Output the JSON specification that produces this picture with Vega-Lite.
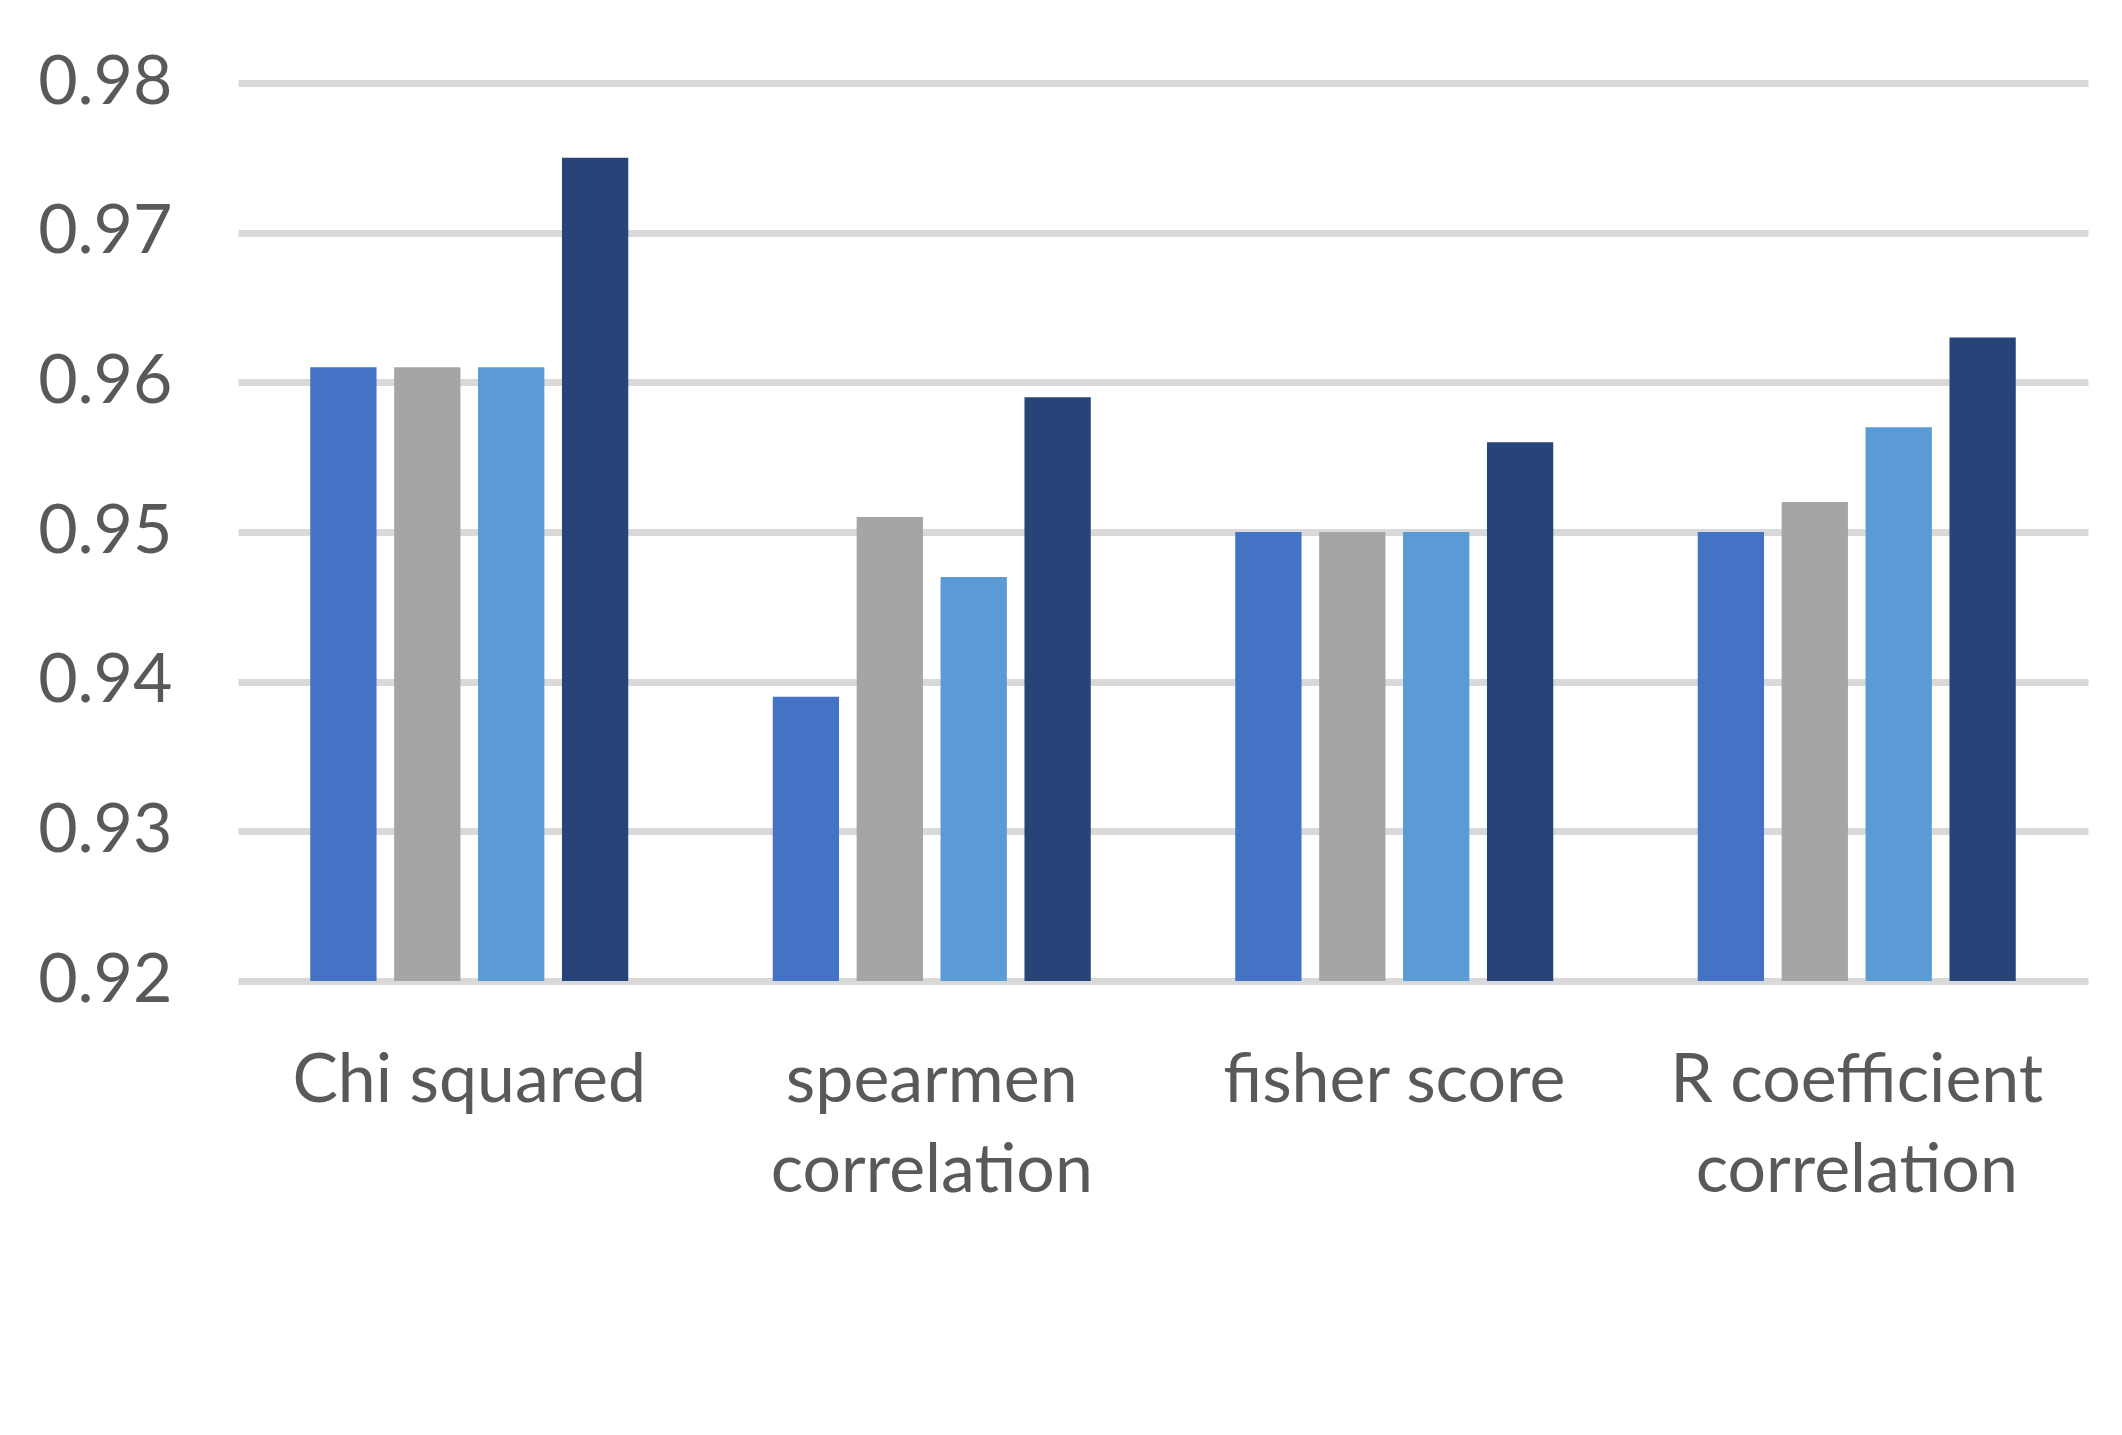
{
  "$schema": "https://vega.github.io/schema/vega-lite/v6.json",
  "width": 1850,
  "height": 898,
  "autosize": {"type": "none"},
  "padding": {"left": 238, "top": 83, "right": 34, "bottom": 454},
  "background": "white",
  "data": {
    "values": [
      {"method": "Chi squared", "series": "A", "value": 0.961},
      {"method": "Chi squared", "series": "B", "value": 0.961},
      {"method": "Chi squared", "series": "C", "value": 0.961},
      {"method": "Chi squared", "series": "D", "value": 0.975},
      {"method": "spearmen correlation", "series": "A", "value": 0.939},
      {"method": "spearmen correlation", "series": "B", "value": 0.951},
      {"method": "spearmen correlation", "series": "C", "value": 0.947},
      {"method": "spearmen correlation", "series": "D", "value": 0.959},
      {"method": "fisher score", "series": "A", "value": 0.950},
      {"method": "fisher score", "series": "B", "value": 0.950},
      {"method": "fisher score", "series": "C", "value": 0.950},
      {"method": "fisher score", "series": "D", "value": 0.956},
      {"method": "R coefficient correlation", "series": "A", "value": 0.950},
      {"method": "R coefficient correlation", "series": "B", "value": 0.952},
      {"method": "R coefficient correlation", "series": "C", "value": 0.957},
      {"method": "R coefficient correlation", "series": "D", "value": 0.963}
    ]
  },
  "mark": {"type": "bar", "clip": true},
  "encoding": {
    "x": {
      "field": "method",
      "type": "nominal",
      "sort": null,
      "scale": {"paddingInner": 0.3124, "paddingOuter": 0.1562},
      "axis": {
        "title": null,
        "domain": false,
        "ticks": false,
        "labelAngle": 0,
        "labelLimit": 0,
        "labelFont": "Lato",
        "labelFontSize": 68,
        "labelColor": "#595959",
        "labelBaseline": "top",
        "labelPadding": 66,
        "labelLineHeight": 90,
        "labelExpr": "datum.value == 'spearmen correlation' ? ['spearmen', 'correlation'] : datum.value == 'R coefficient correlation' ? ['R coefficient', 'correlation'] : datum.value"
      }
    },
    "xOffset": {
      "field": "series",
      "type": "nominal",
      "scale": {"paddingInner": 0.21, "paddingOuter": 0}
    },
    "y": {
      "field": "value",
      "type": "quantitative",
      "scale": {"domain": [0.92, 0.98], "zero": false, "nice": false},
      "axis": {
        "title": null,
        "values": [0.92, 0.93, 0.94, 0.95, 0.96, 0.97, 0.98],
        "format": ".2f",
        "domain": false,
        "ticks": false,
        "grid": true,
        "gridColor": "#D9D9D9",
        "gridWidth": 7,
        "gridOpacity": 1,
        "labelFont": "Lato",
        "labelFontSize": 68,
        "labelColor": "#595959",
        "labelPadding": 66
      }
    },
    "y2": {"datum": 0.92},
    "color": {
      "field": "series",
      "type": "nominal",
      "legend": null,
      "scale": {"domain": ["A", "B", "C", "D"], "range": ["#4472C4", "#A5A5A5", "#5B9BD5", "#264478"]}
    }
  },
  "config": {"view": {"stroke": null}}
}
